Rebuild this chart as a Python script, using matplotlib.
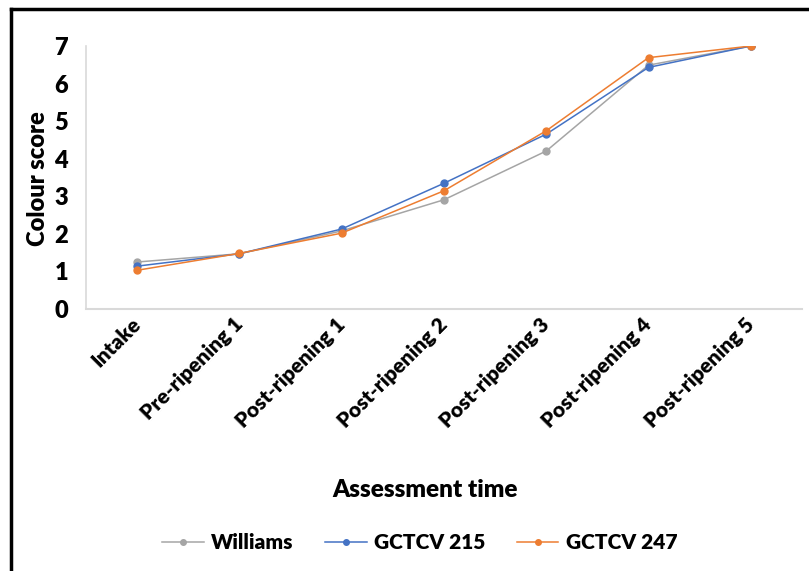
import matplotlib.pyplot as plt
from matplotlib.lines import Line2D

plt.rcParams['font.family'] = ['Lato', 'DejaVu Sans']
plt.rcParams['font.weight'] = 'heavy'

# colour scores per assessment time
stages = ['Intake', 'Pre-ripening 1', 'Post-ripening 1', 'Post-ripening 2',
          'Post-ripening 3', 'Post-ripening 4', 'Post-ripening 5']
williams = [1.24, 1.46, 2.07, 2.90, 4.20, 6.49, 7.0]
gctcv_215 = [1.13, 1.46, 2.12, 3.34, 4.65, 6.43, 7.0]
gctcv_247 = [1.02, 1.47, 2.01, 3.14, 4.74, 6.69, 7.0]

series = [('Williams', williams, '#A5A5A5'),
          ('GCTCV 215', gctcv_215, '#4472C4'),
          ('GCTCV 247', gctcv_247, '#ED7D31')]

fig = plt.figure(figsize=(8.09, 5.71), dpi=100)
ax = fig.add_axes([0.1063, 0.4597, 0.885, 0.4597])

x = range(len(stages))
for name, vals, col in series:
    ax.plot(x, vals, '-o', color=col, lw=1.1, ms=5, label=name)

ax.set_xlim(-0.5, len(stages) - 0.5)
ax.set_ylim(0, 7)
ax.set_yticks(range(8))
ax.set_xticks(list(x))
ax.set_xticklabels(stages, rotation=45, ha='right', va='center',
                   rotation_mode='anchor', fontsize=15, fontweight='heavy')
ax.tick_params(axis='y', labelsize=17, length=0, pad=13)
ax.tick_params(axis='x', length=0, pad=9)
for lab in ax.get_yticklabels():
    lab.set_fontweight('heavy')

for s in ['top', 'right']:
    ax.spines[s].set_visible(False)
ax.spines['left'].set_color('#D9D9D9')
ax.spines['bottom'].set_color('#D9D9D9')
ax.spines['left'].set_linewidth(1.2)
ax.spines['bottom'].set_linewidth(1.5)

fig.text(0.047, 0.688, 'Colour score', rotation=90, ha='center', va='center',
         fontsize=17, fontweight='heavy')
fig.text(0.526, 0.142, 'Assessment time', ha='center', va='center',
         fontsize=17.5, fontweight='heavy')

handles = [Line2D([], [], color=c, lw=1.1, marker='o', ms=4) for _, _, c in series]
fig.legend(handles, [n for n, _, _ in series], loc='center',
           bbox_to_anchor=(0.519, 0.05), ncol=3, frameon=False,
           prop={'size': 15, 'weight': 'heavy'},
           handlelength=2.0, columnspacing=1.5, handletextpad=0.35)

# outer frame on the left and top edges
fig.add_artist(Line2D([0.0136, 0.0136], [0, 0.984], transform=fig.transFigure,
                      color='black', lw=2.5))
fig.add_artist(Line2D([0.0136, 1.0], [0.984, 0.984], transform=fig.transFigure,
                      color='black', lw=2.5))

fig.savefig('out.png', dpi=100)
